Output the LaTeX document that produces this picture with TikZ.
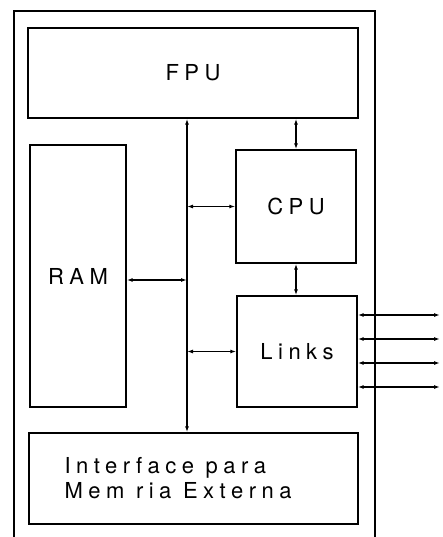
\documentclass[tikz,border=0pt]{standalone}
\usepackage{fontspec}
\setsansfont{TeX Gyre Heros}[LetterSpace=25]
\usetikzlibrary{arrows.meta}

\begin{document}
\begin{tikzpicture}[
  x=1pt, y=-1pt,
  blk/.style={draw, line width=1.4pt, inner sep=0pt,
    font=\sffamily\fontsize{22}{26}\selectfont},
  lbl/.style={font=\sffamily\fontsize{22}{25}\selectfont, align=left, inner sep=0pt},
  conn/.style={{Latex[length=6pt,width=4pt]}-{Latex[length=6pt,width=4pt]}, line width=1.2pt}
]
\useasboundingbox (0,0) rectangle (443,537);
\draw[line width=1.5pt] (14,537) -- (14,11) -- (375,11) -- (375,537);
\node[blk, minimum width=330pt, minimum height=90pt] (fpu) at (193,73) {FPU};
\node[blk, minimum width=96pt, minimum height=262pt] (ram) at (78,276) {RAM};
\node[blk, minimum width=120pt, minimum height=113pt] (cpu) at (296,206.5) {CPU};
\node[blk, minimum width=120pt, minimum height=111pt] (links) at (297,351.5) {Links};
\node[blk, minimum width=329pt, minimum height=91pt] (mem) at (193.5,478.5) {};
\node[lbl, anchor=west] (memtxt) at ([xshift=36pt]mem.west) {Interface para\\Mem ria Externa};
% barramento interno
\coordinate (busx) at (187,0);
\draw[conn] (fpu.south -| busx) -- (mem.north -| busx);
\draw[conn] ([yshift=-4pt]ram.east) -- ([yshift=-4pt]ram.east -| busx);
\draw[conn] (busx |- cpu.west) -- (cpu.west);
\draw[conn] (busx |- links.west) -- (links.west);
\draw[conn] (cpu.north) -- (cpu.north |- fpu.south);
\draw[conn] (cpu.south) -- (cpu.south |- links.north);
% links externos
\foreach \yy [count=\i] in {315,339,363,387} {
  \coordinate (out\i) at (440,\yy);
  \draw[conn] (links.east |- out\i) -- (out\i);
}
\end{tikzpicture}
\end{document}
